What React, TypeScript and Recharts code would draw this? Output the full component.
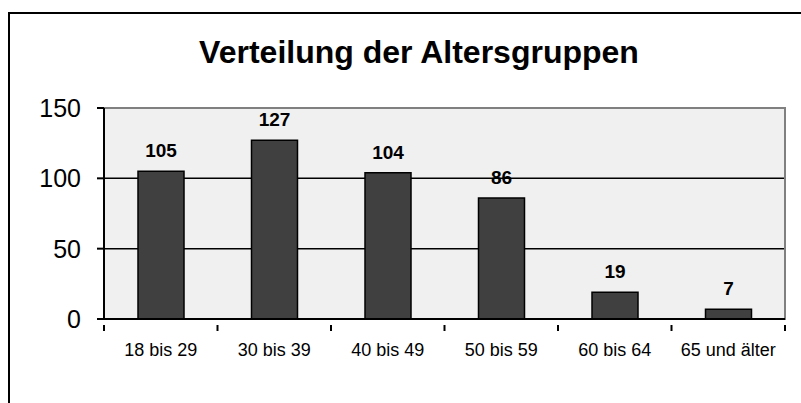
import {
  Bar,
  BarChart,
  CartesianGrid,
  LabelList,
  ReferenceArea,
  XAxis,
  YAxis,
} from "recharts";

const CATEGORIES = ["18 bis 29", "30 bis 39", "40 bis 49", "50 bis 59", "60 bis 64", "65 und älter"];
const COUNTS = [105, 127, 104, 86, 19, 7];
const Y_TICKS = [0, 50, 100, 150];
const GRID_VALUES = [50, 100];

const FONT = "'Liberation Sans', Arial, sans-serif";

const data = CATEGORIES.map((name, i) => ({ name, value: COUNTS[i] }));

// category label plus a tick mark on the band edges (Excel style)
function CategoryTick(props: any) {
  const { x, y, payload, index, visibleTicksCount } = props;
  const half = payload?.offset ?? 0;
  const isLast = index === visibleTicksCount - 1;
  return (
    <g>
      <line x1={x - half} x2={x - half} y1={y - 18} y2={y - 12} stroke="#000" strokeWidth={2} />
      {isLast && (
        <line x1={x + half} x2={x + half} y1={y - 18} y2={y - 12} stroke="#000" strokeWidth={2} />
      )}
      <text x={x} y={y} dy="0.71em" textAnchor="middle" fill="#000" fontSize={18} fontFamily={FONT}>
        {payload.value}
      </text>
    </g>
  );
}

/** Column chart of age groups, styled like an old Excel export. */
export default function App() {
  return (
    <div style={{ position: "absolute", left: 0, top: 0, width: 801, height: 403, background: "#fff" }}>
      <BarChart
        width={801}
        height={403}
        data={data}
        margin={{ top: 108, right: 16, bottom: 0, left: 0 }}
      >
        <CartesianGrid
          vertical={false}
          horizontalValues={GRID_VALUES}
          fill="#f0f0f0"
          stroke="#000"
          strokeWidth={1.5}
        />
        <ReferenceArea y1={0} y2={150} fill="none" stroke="#808080" strokeWidth={2} />
        <XAxis
          dataKey="name"
          height={84}
          tickLine={false}
          tickMargin={18}
          axisLine={{ stroke: "#000", strokeWidth: 2 }}
          tick={<CategoryTick />}
          interval={0}
        />
        <YAxis
          width={104}
          domain={[0, 150]}
          ticks={Y_TICKS}
          tickSize={7}
          tickMargin={16}
          axisLine={{ stroke: "#000", strokeWidth: 2 }}
          tickLine={{ stroke: "#000", strokeWidth: 2 }}
          tick={{ fill: "#000", fontSize: 25, fontFamily: FONT }}
        />
        <Bar dataKey="value" fill="#404040" stroke="#000" strokeWidth={1.5} barSize={46} isAnimationActive={false}>
          <LabelList
            dataKey="value"
            position="top"
            offset={14}
            style={{ fill: "#000", fontSize: 19, fontWeight: "bold", fontFamily: FONT }}
          />
        </Bar>
      </BarChart>
      <svg
        width={801}
        height={403}
        style={{ position: "absolute", left: 0, top: 0, pointerEvents: "none" }}
      >
        <rect x={9} y={13} width={900} height={500} fill="none" stroke="#000" strokeWidth={2} />
        <text
          x={419}
          y={63}
          textAnchor="middle"
          fontFamily={FONT}
          fontSize={32}
          fontWeight="bold"
          fill="#000"
        >
          Verteilung der Altersgruppen
        </text>
      </svg>
    </div>
  );
}
